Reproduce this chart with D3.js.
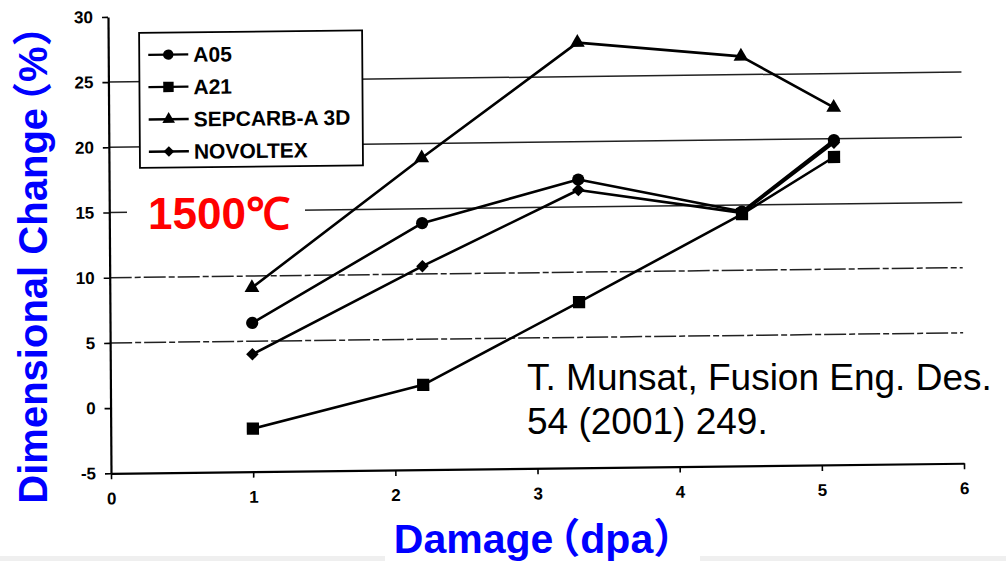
<!DOCTYPE html>
<html>
<head>
<meta charset="utf-8">
<script src="https://cdn.jsdelivr.net/npm/d3@7"></script>
<style>
  html, body { margin: 0; padding: 0; background: #fff; }
  svg { display: block; font-family: "Liberation Sans", Arial, "Noto Sans CJK SC", sans-serif; }
</style>
</head>
<body>
<script>
"use strict";

// values
const damage = [1.0, 2.2, 3.3, 4.45, 5.1];
const seriesNames = ["A05", "A21", "SEPCARB-A 3D", "NOVOLTEX"];
const a05 = [6.4, 13.9, 17.1, 14.5, 19.9];
const a21 = [-1.7, 1.5, 7.7, 14.3, 18.6];
const sepcarb = [9.1, 18.9, 27.6, 26.4, 22.4];
const novoltex = [4.0, 10.6, 16.3, 14.4, 19.7];
const xTicks = [0, 1, 2, 3, 4, 5, 6];
const yTicks = [-5, 0, 5, 10, 15, 20, 25, 30];
const gridValues = [5, 10, 15, 20, 25];
const tempLabel = "1500℃";
const citation = ["T. Munsat, Fusion Eng. Des.", "54 (2001) 249."];

const width = 1006;
const height = 561;

const series = [
  { name: seriesNames[0], values: a05, shape: "circle" },
  { name: seriesNames[1], values: a21, shape: "square" },
  { name: seriesNames[2], values: sepcarb, shape: "triangle" },
  { name: seriesNames[3], values: novoltex, shape: "diamond" },
];

const svg = d3.select("body")
  .append("svg")
    .attr("width", width)
    .attr("height", height);

// bottom edge of the slide
svg.append("rect")
  .attr("x", 0).attr("y", 556)
  .attr("width", width).attr("height", 5)
  .attr("fill", "#efefef");

// the scan is a bit skewed: horizontals rise to the right, the y axis leans left
const plot = svg.append("g")
  .attr("transform", "translate(111,473.3) matrix(1,-0.0118,0.0066,1,0,0)");

const x = d3.scaleLinear().domain([0, 6]).range([0, 853]);
const y = d3.scaleLinear().domain([-5, 30]).range([0, -456.4]);

// grid lines
plot.append("g")
  .selectAll("line")
  .data(gridValues)
  .enter()
  .append("line")
    .attr("x1", x(0))
    .attr("x2", x(6))
    .attr("y1", (d) => y(d))
    .attr("y2", (d) => y(d))
    .attr("stroke", "#222")
    .attr("stroke-width", 1.5)
    .attr("stroke-dasharray", (d) => d <= 10 ? "22,3,6,3" : null);

const yAxis = plot.append("g")
  .call(d3.axisLeft(y)
    .tickValues(yTicks)
    .tickFormat((d) => String(d))
    .tickSize(6).tickSizeOuter(0).tickPadding(9));

const xAxis = plot.append("g")
  .call(d3.axisBottom(x)
    .tickValues(xTicks)
    .tickFormat((d) => String(d))
    .tickSize(6).tickSizeOuter(0).tickPadding(13));

[xAxis, yAxis].forEach((ax) => {
  ax.attr("font-size", 17).attr("font-family", null);
  ax.select(".domain").attr("stroke", "#000").attr("stroke-width", 2.2);
  ax.selectAll(".tick line").attr("stroke", "#000").attr("stroke-width", 1.6);
  ax.selectAll(".tick text")
    .attr("fill", "#000")
    .attr("font-size", 17)
    .attr("font-weight", "bold");
});

const line = d3.line()
  .x((d, i) => x(damage[i]))
  .y((d) => y(d));

const symbolFor = {
  circle: d3.symbol().type(d3.symbolCircle).size(118),
  square: d3.symbol().type(d3.symbolSquare).size(150),
  triangle: d3.symbol().type(d3.symbolTriangle).size(95),
  diamond: d3.symbol().type(d3.symbolSquare).size(78),
};

const seriesG = plot.selectAll(".series")
  .data(series)
  .enter()
  .append("g")
    .attr("class", "series");

seriesG.append("path")
  .attr("d", (d) => line(d.values))
  .attr("fill", "none")
  .attr("stroke", "#000")
  .attr("stroke-width", 2.6)
  .attr("stroke-linejoin", "round");

seriesG.each(function(s) {
  d3.select(this)
    .selectAll(".mark")
    .data(s.values)
    .enter()
    .append("path")
      .attr("class", "mark")
      .attr("d", symbolFor[s.shape]())
      .attr("fill", "#000")
      .attr("transform", (d, i) => {
        const rot = s.shape === "diamond" ? " rotate(45)" : "";
        return `translate(${x(damage[i])},${y(d)})${rot}`;
      });
});

// legend box
const legend = plot.append("g")
  .attr("transform", "translate(31,-440)");

legend.append("rect")
  .attr("width", 223)
  .attr("height", 135)
  .attr("fill", "#fff")
  .attr("stroke", "#000")
  .attr("stroke-width", 1.8);

const rows = legend.selectAll(".row")
  .data(series)
  .enter()
  .append("g")
    .attr("class", "row")
    .attr("transform", (d, i) => `translate(0,${22 + i * 32.3})`);

rows.append("line")
  .attr("x1", 9).attr("x2", 49)
  .attr("stroke", "#000")
  .attr("stroke-width", 2.4);

rows.append("path")
  .attr("d", (d) => symbolFor[d.shape]())
  .attr("fill", "#000")
  .attr("transform", (d) => `translate(29,0)${d.shape === "diamond" ? " rotate(45)" : ""} scale(0.85)`);

rows.append("text")
  .attr("x", 54)
  .attr("dy", "0.36em")
  .attr("fill", "#000")
  .style("font-size", "21px")
  .style("font-weight", "bold")
  .text((d) => d.name);

// temperature tag (white box cuts the grid line)
svg.append("rect")
  .attr("x", 127).attr("y", 190)
  .attr("width", 178).attr("height", 48)
  .attr("fill", "#fff");

svg.append("text")
  .attr("x", 148)
  .attr("y", 229)
  .attr("fill", "#ff0000")
  .style("font-family", "'Liberation Sans Narrow', 'Liberation Sans', Arial, sans-serif")
  .style("font-size", "44px")
  .style("font-weight", "bold")
  .text(tempLabel);

// citation
svg.append("g")
  .selectAll("text")
  .data(citation)
  .enter()
  .append("text")
    .attr("x", 527)
    .attr("y", (d, i) => 390 + i * 44)
    .attr("fill", "#000")
    .style("font-size", "37px")
    .text((d) => d);

// axis titles; pull the full-width "（" in toward the word before it
svg.append("rect")
  .attr("x", 385).attr("y", 553)
  .attr("width", 315).attr("height", 8)
  .attr("fill", "#fff");

svg.append("text")
  .attr("x", 544)
  .attr("y", 553)
  .attr("dx", "0 0 0 0 0 0 -14")
  .attr("text-anchor", "middle")
  .attr("fill", "#0000ff")
  .style("font-size", "41px")
  .style("font-weight", "bold")
  .text("Damage（dpa）");

svg.append("text")
  .attr("transform", "translate(47,255) rotate(-90)")
  .attr("dx", "0 0 0 0 0 0 0 0 0 0 0 0 0 0 0 0 0 0 -14")
  .attr("text-anchor", "middle")
  .attr("fill", "#0000ff")
  .style("font-size", "40px")
  .style("font-weight", "bold")
  .text("Dimensional Change（%）");
</script>
</body>
</html>
